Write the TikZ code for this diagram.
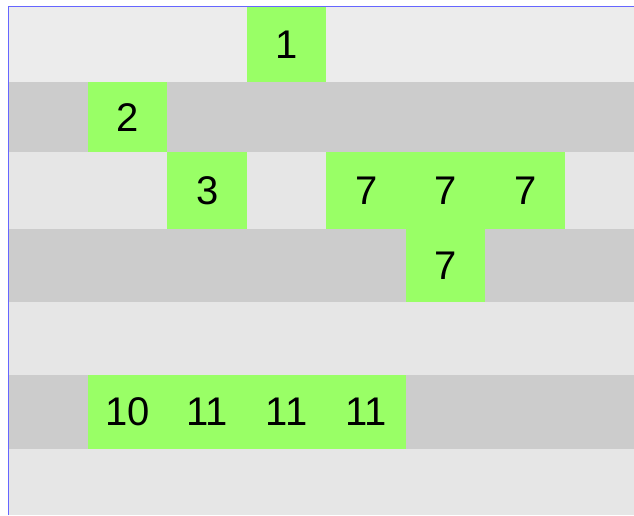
\documentclass[tikz,border=0pt]{standalone}
\usepackage{fontspec}
\setmainfont{Liberation Sans}
\definecolor{rowlight}{HTML}{ECECEC}
\definecolor{rowmid}{HTML}{E6E6E6}
\definecolor{rowdark}{HTML}{CCCCCC}
\definecolor{cellgreen}{HTML}{99FF66}
\definecolor{edgeblue}{HTML}{6666FF}
\begin{document}
\begin{tikzpicture}[x=1pt,y=-1pt,
  cell/.style={fill=cellgreen, draw=none, inner sep=0pt, anchor=north west,
    font=\fontsize{40}{40}\selectfont, text=black},
]
\useasboundingbox (0,0) rectangle (634,515);
\fill[white] (0,0) rectangle (634,515);
% rows
\fill[rowlight] (9,7) rectangle (634,82);
\fill[rowdark] (9,82) rectangle (634,152);
\fill[rowmid] (9,152) rectangle (634,229);
\fill[rowdark] (9,229) rectangle (634,302);
\fill[rowmid] (9,302) rectangle (634,375);
\fill[rowdark] (9,375) rectangle (634,449);
\fill[rowmid] (9,449) rectangle (634,515);
% cells
\node[cell, minimum width=79pt, minimum height=75pt] (c1) at (247,7) {1};
\node[cell, minimum width=79pt, minimum height=70pt] (c2) at (88,82) {2};
\node[cell, minimum width=80pt, minimum height=77pt] (c3) at (167,152) {3};
\node[cell, minimum width=80pt, minimum height=77pt] (c7a) at (326,152) {7};
\node[cell, minimum width=79pt, minimum height=77pt] (c7b) at (406,152) {7};
\node[cell, minimum width=80pt, minimum height=77pt] (c7c) at (485,152) {7};
\node[cell, minimum width=79pt, minimum height=73pt] (c7d) at (406,229) {7};
\node[cell, minimum width=79pt, minimum height=74pt] (c10) at (88,375) {10};
\node[cell, minimum width=80pt, minimum height=74pt] (c11a) at (167,375) {11};
\node[cell, minimum width=79pt, minimum height=74pt] (c11b) at (247,375) {11};
\node[cell, minimum width=80pt, minimum height=74pt] (c11c) at (326,375) {11};
% border lines
\draw[edgeblue, line width=1pt] (8.5,515) -- (8.5,6.5) -- (634,6.5);
\end{tikzpicture}
\end{document}
